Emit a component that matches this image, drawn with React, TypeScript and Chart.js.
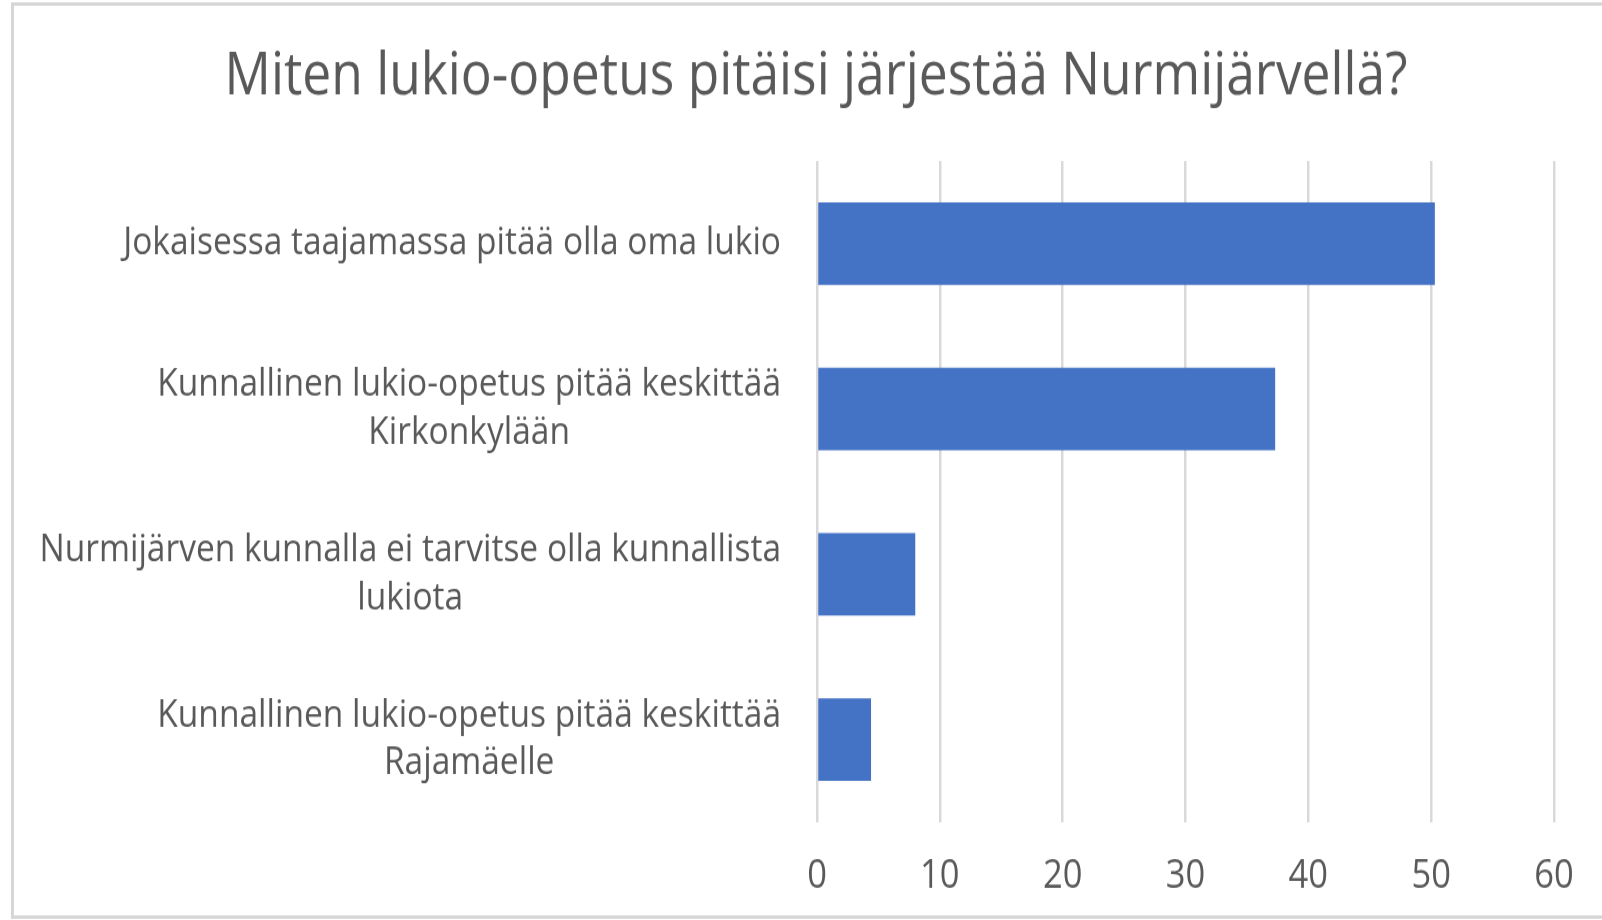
import React, { useEffect, useRef } from "react";
import { Chart, registerables } from "chart.js";

Chart.register(...registerables);

const TITLE = "Miten lukio-opetus pitäisi järjestää Nurmijärvellä?";
const categories: (string | string[])[] = [
  "Jokaisessa taajamassa pitää olla oma lukio",
  ["Kunnallinen lukio-opetus pitää keskittää", "Kirkonkylään"],
  ["Nurmijärven kunnalla ei tarvitse olla kunnallista", "lukiota"],
  ["Kunnallinen lukio-opetus pitää keskittää", "Rajamäelle"],
];
const values = [50.3, 37.3, 8.0, 4.4];
const xTicks = [0, 10, 20, 30, 40, 50, 60];

const W = 1602;
const H = 800; // internal height, stretched to 920 by CSS
const FONT = "'Open Sans', 'Noto Sans', sans-serif";
const TEXT = "#595959";

const decor = {
  id: "decor",
  beforeDraw(chart: any) {
    const ctx = chart.ctx;
    ctx.save();
    ctx.fillStyle = "#ffffff";
    ctx.fillRect(0, 0, W, H);
    ctx.strokeStyle = "#d6d6d6";
    ctx.lineWidth = 3;
    ctx.beginPath();
    ctx.moveTo(W + 2, 3.5);
    ctx.lineTo(12.5, 3.5);
    ctx.lineTo(12.5, 797.5);
    ctx.lineTo(W + 2, 797.5);
    ctx.stroke();
    ctx.restore();
  },
  afterDraw(chart: any) {
    const ctx = chart.ctx;
    ctx.save();
    ctx.fillStyle = TEXT;
    ctx.font = `51.5px ${FONT}`;
    ctx.textAlign = "center";
    ctx.textBaseline = "alphabetic";
    ctx.fillText(TITLE, 816, 81.5);

    const yScale = chart.scales.y;
    ctx.font = `33.5px ${FONT}`;
    ctx.textBaseline = "middle";
    ctx.textAlign = "center";
    const rightEdge = 781;
    const lh = 41.5;
    categories.forEach((c, i) => {
      const lines = Array.isArray(c) ? c : [c];
      const wmax = Math.max(...lines.map((l) => ctx.measureText(l).width));
      const cx = rightEdge - wmax / 2;
      const cy = yScale.getPixelForValue(i);
      lines.forEach((l, j) => {
        const y = cy + (j - (lines.length - 1) / 2) * lh;
        ctx.fillText(l, cx, y);
      });
    });
    ctx.restore();
  },
};

export default function App() {
  const ref = useRef<HTMLCanvasElement>(null);
  useEffect(() => {
    if (!ref.current) return;
    const chart = new Chart(ref.current, {
      type: "bar",
      data: {
        labels: categories as any,
        datasets: [
          {
            data: values,
            backgroundColor: "#4472c4",
            borderWidth: 0,
            barPercentage: 0.5,
            categoryPercentage: 1,
          },
        ],
      },
      options: {
        indexAxis: "y",
        animation: false,
        responsive: false,
        devicePixelRatio: 1,
        layout: { padding: { left: 817, right: 48, top: 140, bottom: 0 } },
        plugins: {
          legend: { display: false },
          tooltip: { enabled: false },
          title: { display: false },
        },
        scales: {
          x: {
            min: 0,
            max: 60,
            afterBuildTicks: (s: any) => {
              s.ticks = xTicks.map((v) => ({ value: v }));
            },
            afterFit: (s: any) => {
              s.height = 85;
            },
            grid: { color: "#d9d9d9", lineWidth: 2.5, drawTicks: false },
            border: { display: false },
            ticks: {
              color: TEXT,
              font: { family: FONT, size: 34.5 },
              padding: 26,
            },
          },
          y: {
            grid: { display: false },
            border: { display: false },
            ticks: { display: false },
            afterFit: (s: any) => {
              s.width = 0;
            },
          },
        },
      },
      plugins: [decor],
    });
    return () => chart.destroy();
  }, []);
  return (
    <div style={{ position: "fixed", left: 0, top: 0, width: W, height: 920, background: "#fff" }}>
      <canvas ref={ref} width={W} height={H} style={{ width: W + "px", height: "920px", display: "block" }} />
    </div>
  );
}
